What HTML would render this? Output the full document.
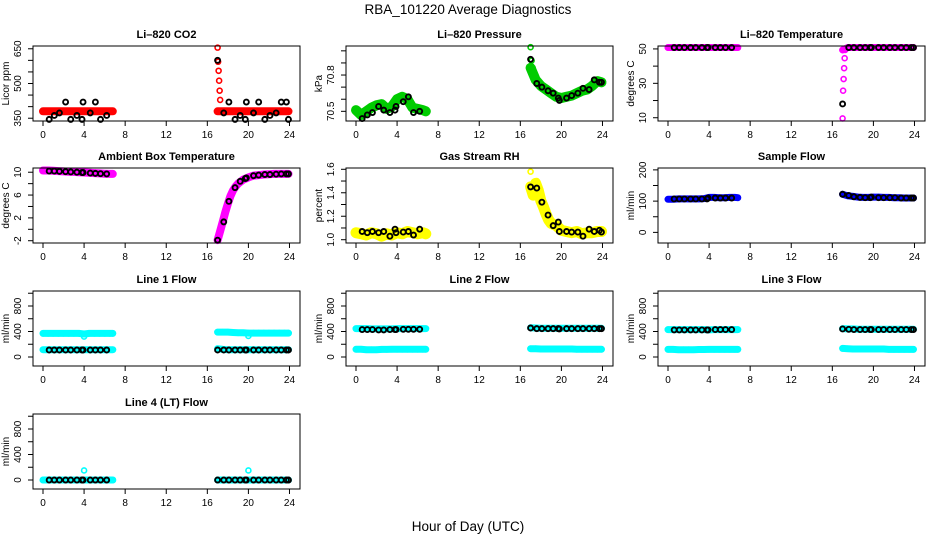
<!DOCTYPE html>
<html><head><meta charset="utf-8"><title>RBA_101220 Average Diagnostics</title>
<style>
html,body{margin:0;padding:0;background:#fff;}
svg{display:block;font-family:"Liberation Sans",Arial,sans-serif;}
</style></head>
<body>
<svg id="chart" width="936" height="540" viewBox="0 0 936 540" xmlns="http://www.w3.org/2000/svg">
<rect width="936" height="540" fill="#fff"/>
<text x="468" y="14" text-anchor="middle" font-size="13.5">RBA_101220  Average Diagnostics</text>
<text x="468" y="531" text-anchor="middle" font-size="13.5">Hour of Day (UTC)</text>
</svg>
<script>
// ---- shared hour categories ----
const cH = [0,0.5,1,1.5,2,2.5,3,3.5,4,4.5,5,5.5,6,6.5,6.8, 17,17.5,18,18.5,19,19.5,20,20.5,21,21.5,22,22.5,23,23.5,23.9];
const bH = [0.6,1.1,1.6,2.2,2.7,3.3,3.8,3.9,4.6,5.1,5.6,6.2, 17.0,17.6,18.1,18.7,19.2,19.7,19.8,20.5,21.0,21.6,22.1,22.7,23.2,23.7,23.9];
const cHcurve = [0,0.5,1,1.5,2,2.5,3,3.5,4,4.5,5,5.5,6,6.5,6.8, 17.0,17.25,17.5,17.75,18,18.25,18.5,18.75,19,19.5,20,20.5,21,21.5,22,22.5,23,23.5,23.9];
const xTicks = [0,4,8,12,16,20,24];

// ---- Li-820 CO2 ----
const co2Red = [380,380,380,380,380,380,380,380,380,380,380,380,380,380,380, 380,380,380,380,380,380,380,380,380,380,380,380,380,380,380];
const co2SpikeH = [17.0,17.05,17.1,17.15,17.2,17.25];
const co2Spike = [655,594,555,512,469,429];
const co2Black = [345,362,373,420,345,362,345,420,373,420,345,362, 600,373,420,345,362,345,420,373,420,345,362,373,420,420,345];
// ---- Li-820 Pressure ----
const presGreen = [70.51,70.47,70.50,70.53,70.55,70.56,70.52,70.54,70.60,70.62,70.60,70.53,70.52,70.51,70.50, 70.86,70.76,70.71,70.68,70.65,70.62,70.61,70.62,70.63,70.65,70.67,70.68,70.71,70.75,70.74];
const presSpikeH = [17.0,17.1,17.2];
const presSpike = [71.03,70.92,70.86];
const presBlack = [70.44,70.47,70.49,70.54,70.51,70.49,70.51,70.54,70.58,70.62,70.49,70.50, 70.93,70.73,70.70,70.67,70.65,70.61,70.59,70.61,70.63,70.65,70.69,70.68,70.76,70.74,70.74];
// ---- Li-820 Temperature ----
const tempMag = [50.8,50.8,50.8,50.8,50.8,50.8,50.8,50.8,50.8,50.8,50.8,50.8,50.8,50.8,50.8, 49.4,50.8,50.8,50.8,50.8,50.8,50.8,50.8,50.8,50.8,50.8,50.8,50.8,50.8,50.8];
const tempSpikeH = [17.0,17.05,17.1,17.15,17.2,17.25];
const tempSpike = [9.6,25.7,32.5,38.8,44.6,49.4];
const tempBlack = [50.8,50.8,50.8,50.8,50.8,50.8,50.8,50.8,50.8,50.8,50.8,50.8, 18.0,50.8,50.8,50.8,50.8,50.8,50.8,50.8,50.8,50.8,50.8,50.8,50.8,50.8,50.8];
// ---- Ambient Box Temperature ----
const ambMag = [10.3,10.3,10.25,10.2,10.15,10.1,10.05,10.0,9.95,9.9,9.85,9.8,9.75,9.7,9.7, -1.9,-0.3,1.3,3.0,4.5,5.8,6.8,7.5,8.0,8.7,9.1,9.4,9.5,9.6,9.65,9.7,9.7,9.7,9.7];
const ambBlack = [10.2,10.2,10.15,10.1,10.05,10.0,9.95,9.95,9.85,9.8,9.75,9.7, -1.9,1.3,4.9,7.3,8.4,8.9,9.0,9.4,9.5,9.6,9.6,9.65,9.7,9.7,9.7];
// ---- Gas Stream RH ----
const rhYel = [1.06,1.05,1.04,1.06,1.05,1.03,1.05,1.04,1.06,1.05,1.07,1.06,1.05,1.06,1.05, 1.45,1.38,1.48,1.42,1.33,1.28,1.22,1.17,1.14,1.12,1.08,1.07,1.06,1.07,1.05,1.06,1.06,1.07,1.07];
const rhSpikeH = [17.0,17.6];
const rhSpike = [1.58,1.50];
const rhBlack = [1.07,1.06,1.07,1.06,1.07,1.03,1.09,1.06,1.065,1.07,1.04,1.09, 1.45,1.44,1.32,1.21,1.12,1.15,1.07,1.07,1.065,1.065,1.03,1.09,1.07,1.08,1.065];
// ---- Sample Flow ----
const sfBlue = [106,106,107,107,107,107,107,108,112,112,111,111,112,112,111, 122,117,115,113,112,112,113,113,112,112,111,111,110,110,110];
const sfBlack = [107,107,107,107,107,107,107,110,110,110,110,110, 122,118,114,112,111,111,113,111,111,111,111,110,110,110,110];
// ---- Line 1 Flow ----
const l1Up = [370,370,370,370,370,370,370,370,360,370,370,370,370,370,370, 390,390,390,385,380,380,375,375,375,375,375,375,375,375,375];
const l1Low = [115,115,115,115,115,115,115,115,115,115,115,115,115,115,115, 130,120,115,115,115,115,115,115,115,115,115,115,115,115,115];
const l1BlipH = [4.0,20.0];
const l1Blip = [320,330];
const l1Black = [110,110,110,110,110,110,110,110,110,110,110,110, 110,110,110,110,110,110,110,110,110,110,110,110,110,110,110];
// ---- Line 2 Flow ----
const l2Up = [445,445,445,440,440,440,440,440,445,445,445,445,445,445,445, 460,455,450,450,450,450,450,450,450,450,450,450,450,450,450];
const l2Low = [121,121,115,115,115,120,120,121,121,121,121,121,121,121,121, 130,130,125,125,125,125,125,125,125,121,121,121,121,121,121];
const l2Black = [430,430,430,425,425,430,430,430,435,435,435,435, 455,445,445,445,445,445,440,445,445,445,445,445,445,445,445];
// ---- Line 3 Flow ----
const l3Up = [430,430,430,430,430,430,430,430,425,430,430,430,430,430,430, 445,440,440,435,435,435,435,435,435,435,435,435,435,435,435];
const l3Low = [120,120,115,115,115,115,118,118,120,120,120,120,120,120,120, 135,130,125,125,125,125,125,125,125,120,120,120,120,120,120];
const l3Black = [425,425,425,425,425,425,425,425,430,430,430,430, 440,435,430,430,430,430,430,430,430,430,430,430,430,430,430];
// ---- Line 4 (LT) Flow ----
const l4Cyan = [0,0,0,0,0,0,0,0,0,0,0,0,0,0,0, 0,0,0,0,0,0,0,0,0,0,0,0,0,0,0];
const l4BlipH = [4.0,20.0];
const l4Blip = [150,150];
const l4Black = [0,0,0,0,0,0,0,0,0,0,0,0, 0,0,0,0,0,0,0,0,0,0,0,0,0,0,0];

const NS = "http://www.w3.org/2000/svg";
const svg = document.getElementById('chart');
const colLeft = [33,346,658], rowTop = [46,168,291,414], BW = 267, BH = 75;

function mk(tag, attrs, parent){
  const e = document.createElementNS(NS, tag);
  for (const k in attrs) e.setAttribute(k, attrs[k]);
  parent.appendChild(e);
  return e;
}

const flowTicks = [0,200,400,600,800,1000], flowLabels = [0,400,800], flowLim = [-141,1035];

const panels = [
 {name:'co2', col:0,row:0,title:'Li\u2013820 CO2',ylab:'Licor ppm',lim:[338,662],ticks:[350,400,450,500,550,600,650],labels:[350,500,650],
  series:[{h:cH,v:co2Red,c:'#ff0000',line:true,w:8},{h:co2SpikeH,v:co2Spike,c:'#ff0000'},{h:bH,v:co2Black,c:'#000'}]},
 {name:'pressure', col:1,row:0,title:'Li\u2013820 Pressure',ylab:'kPa',lim:[70.42,71.04],ticks:[70.5,70.6,70.7,70.8,70.9,71.0],labels:[70.5,70.8],
  series:[{h:cH,v:presGreen,c:'#00cc00',line:true,w:10},{h:presSpikeH,v:presSpike,c:'#00cc00'},{h:bH,v:presBlack,c:'#000'}]},
 {name:'temperature', col:2,row:0,title:'Li\u2013820 Temperature',ylab:'degrees C',lim:[8.1,51.7],ticks:[10,20,30,40,50],labels:[10,30,50],
  series:[{h:cH,v:tempMag,c:'#ff00ff',line:true,w:7},{h:tempSpikeH,v:tempSpike,c:'#ff00ff'},{h:bH,v:tempBlack,c:'#000'}]},
 {name:'ambient-box-temperature', col:0,row:1,title:'Ambient Box Temperature',ylab:'degrees C',lim:[-2.4,10.74],ticks:[-2,0,2,4,6,8,10],labels:[-2,2,6,10],
  series:[{h:cHcurve,v:ambMag,c:'#ff00ff',line:true,w:8},{h:bH,v:ambBlack,c:'#000'}]},
 {name:'gas-stream-rh', col:1,row:1,title:'Gas Stream RH',ylab:'percent',lim:[0.972,1.611],ticks:[1.0,1.1,1.2,1.3,1.4,1.5,1.6],labels:['1.0','1.2','1.4','1.6'],
  series:[{h:cHcurve,v:rhYel,c:'#ffff00',line:true,w:11},{h:rhSpikeH,v:rhSpike,c:'#ffff00'},{h:bH,v:rhBlack,c:'#000'}]},
 {name:'sample-flow', col:2,row:1,title:'Sample Flow',ylab:'ml/min',lim:[-34,206],ticks:[0,50,100,150,200],labels:[0,100,200],
  series:[{h:cH,v:sfBlue,c:'#0000ff',line:true,w:7},{h:bH,v:sfBlack,c:'#000'}]},
 {name:'line-1-flow', col:0,row:2,title:'Line 1 Flow',ylab:'ml/min',lim:flowLim,ticks:flowTicks,labels:flowLabels,
  series:[{h:cH,v:l1Up,c:'#00ffff',line:true,w:7},{h:cH,v:l1Low,c:'#00ffff',line:true,w:7},{h:l1BlipH,v:l1Blip,c:'#00ffff'},{h:bH,v:l1Black,c:'#000'}]},
 {name:'line-2-flow', col:1,row:2,title:'Line 2 Flow',ylab:'ml/min',lim:flowLim,ticks:flowTicks,labels:flowLabels,
  series:[{h:cH,v:l2Up,c:'#00ffff',line:true,w:7},{h:cH,v:l2Low,c:'#00ffff',line:true,w:7},{h:bH,v:l2Black,c:'#000'}]},
 {name:'line-3-flow', col:2,row:2,title:'Line 3 Flow',ylab:'ml/min',lim:flowLim,ticks:flowTicks,labels:flowLabels,
  series:[{h:cH,v:l3Up,c:'#00ffff',line:true,w:7},{h:cH,v:l3Low,c:'#00ffff',line:true,w:7},{h:bH,v:l3Black,c:'#000'}]},
 {name:'line-4-flow', col:0,row:3,title:'Line 4 (LT) Flow',ylab:'ml/min',lim:flowLim,ticks:flowTicks,labels:flowLabels,
  series:[{h:cH,v:l4Cyan,c:'#00ffff',line:true,w:7},{h:l4BlipH,v:l4Blip,c:'#00ffff'},{h:bH,v:l4Black,c:'#000'}]}
];

panels.forEach(p => {
  const L = colLeft[p.col], T = rowTop[p.row];
  const g = mk('g', {}, svg);
  
  
  const xs = h => L + 10 + h * 10.27;
  const ys = v => T + BH - (v - p.lim[0]) / (p.lim[1] - p.lim[0]) * BH;

  const title = mk('text', {x: L + BW/2, y: T - 8, 'text-anchor':'middle', 'font-size':'11', 'font-weight':'bold'}, g);
  title.textContent = p.title;
  
  

  p.ticks.forEach(t => {
    const tk = mk('line', {x1:L-5, x2:L, y1:ys(t), y2:ys(t), stroke:'#000', 'stroke-width':1}, g);
    
    
  });
  p.labels.forEach(t => {
    const y = ys(+t), x = L - 12;
    const tl = mk('text', {x:x, y:y, 'text-anchor':'middle', 'font-size':'10', transform:`rotate(-90 ${x} ${y})`}, g);
    tl.textContent = String(t);
    
    
  });
  const yx = L - 24, yy = T + BH/2;
  const yt = mk('text', {x:yx, y:yy, 'text-anchor':'middle', 'font-size':'10', transform:`rotate(-90 ${yx} ${yy})`}, g);
  yt.textContent = p.ylab;
  
  

  xTicks.forEach(t => {
    const tk = mk('line', {x1:xs(t), x2:xs(t), y1:T+BH, y2:T+BH+5, stroke:'#000', 'stroke-width':1}, g);
    
    
    const tl = mk('text', {x:xs(t), y:T+BH+17, 'text-anchor':'middle', 'font-size':'10'}, g);
    tl.textContent = String(t);
    
    
  });

  p.series.forEach(s => {
    const sg = mk('g', {}, g);
    
    
    if (s.line) {
      let seg = [];
      const flush = () => {
        if (seg.length > 1) {
          const pl = mk('polyline', {points: seg.join(' '), fill:'none', stroke:s.c, 'stroke-width':s.w || 6, 'stroke-linejoin':'round', 'stroke-linecap':'round'}, sg);
          
          
        }
        seg = [];
      };
      s.h.forEach((h, i) => {
        if (i > 0 && h - s.h[i-1] > 3) flush();
        seg.push(xs(h).toFixed(1) + ',' + ys(s.v[i]).toFixed(1));
      });
      flush();
    }
    s.h.forEach((h, i) => {
      const c = mk('circle', {cx:xs(h), cy:ys(s.v[i]), r:2.5, fill:'none', stroke:s.c, 'stroke-width':s.c === '#000' ? 1.9 : 1.6}, sg);
      
      
    });
  });

  const box = mk('rect', {x:L, y:T, width:BW, height:BH, fill:'none', stroke:'#000', 'stroke-width':1}, g);
  
  
});
</script>
</body></html>
